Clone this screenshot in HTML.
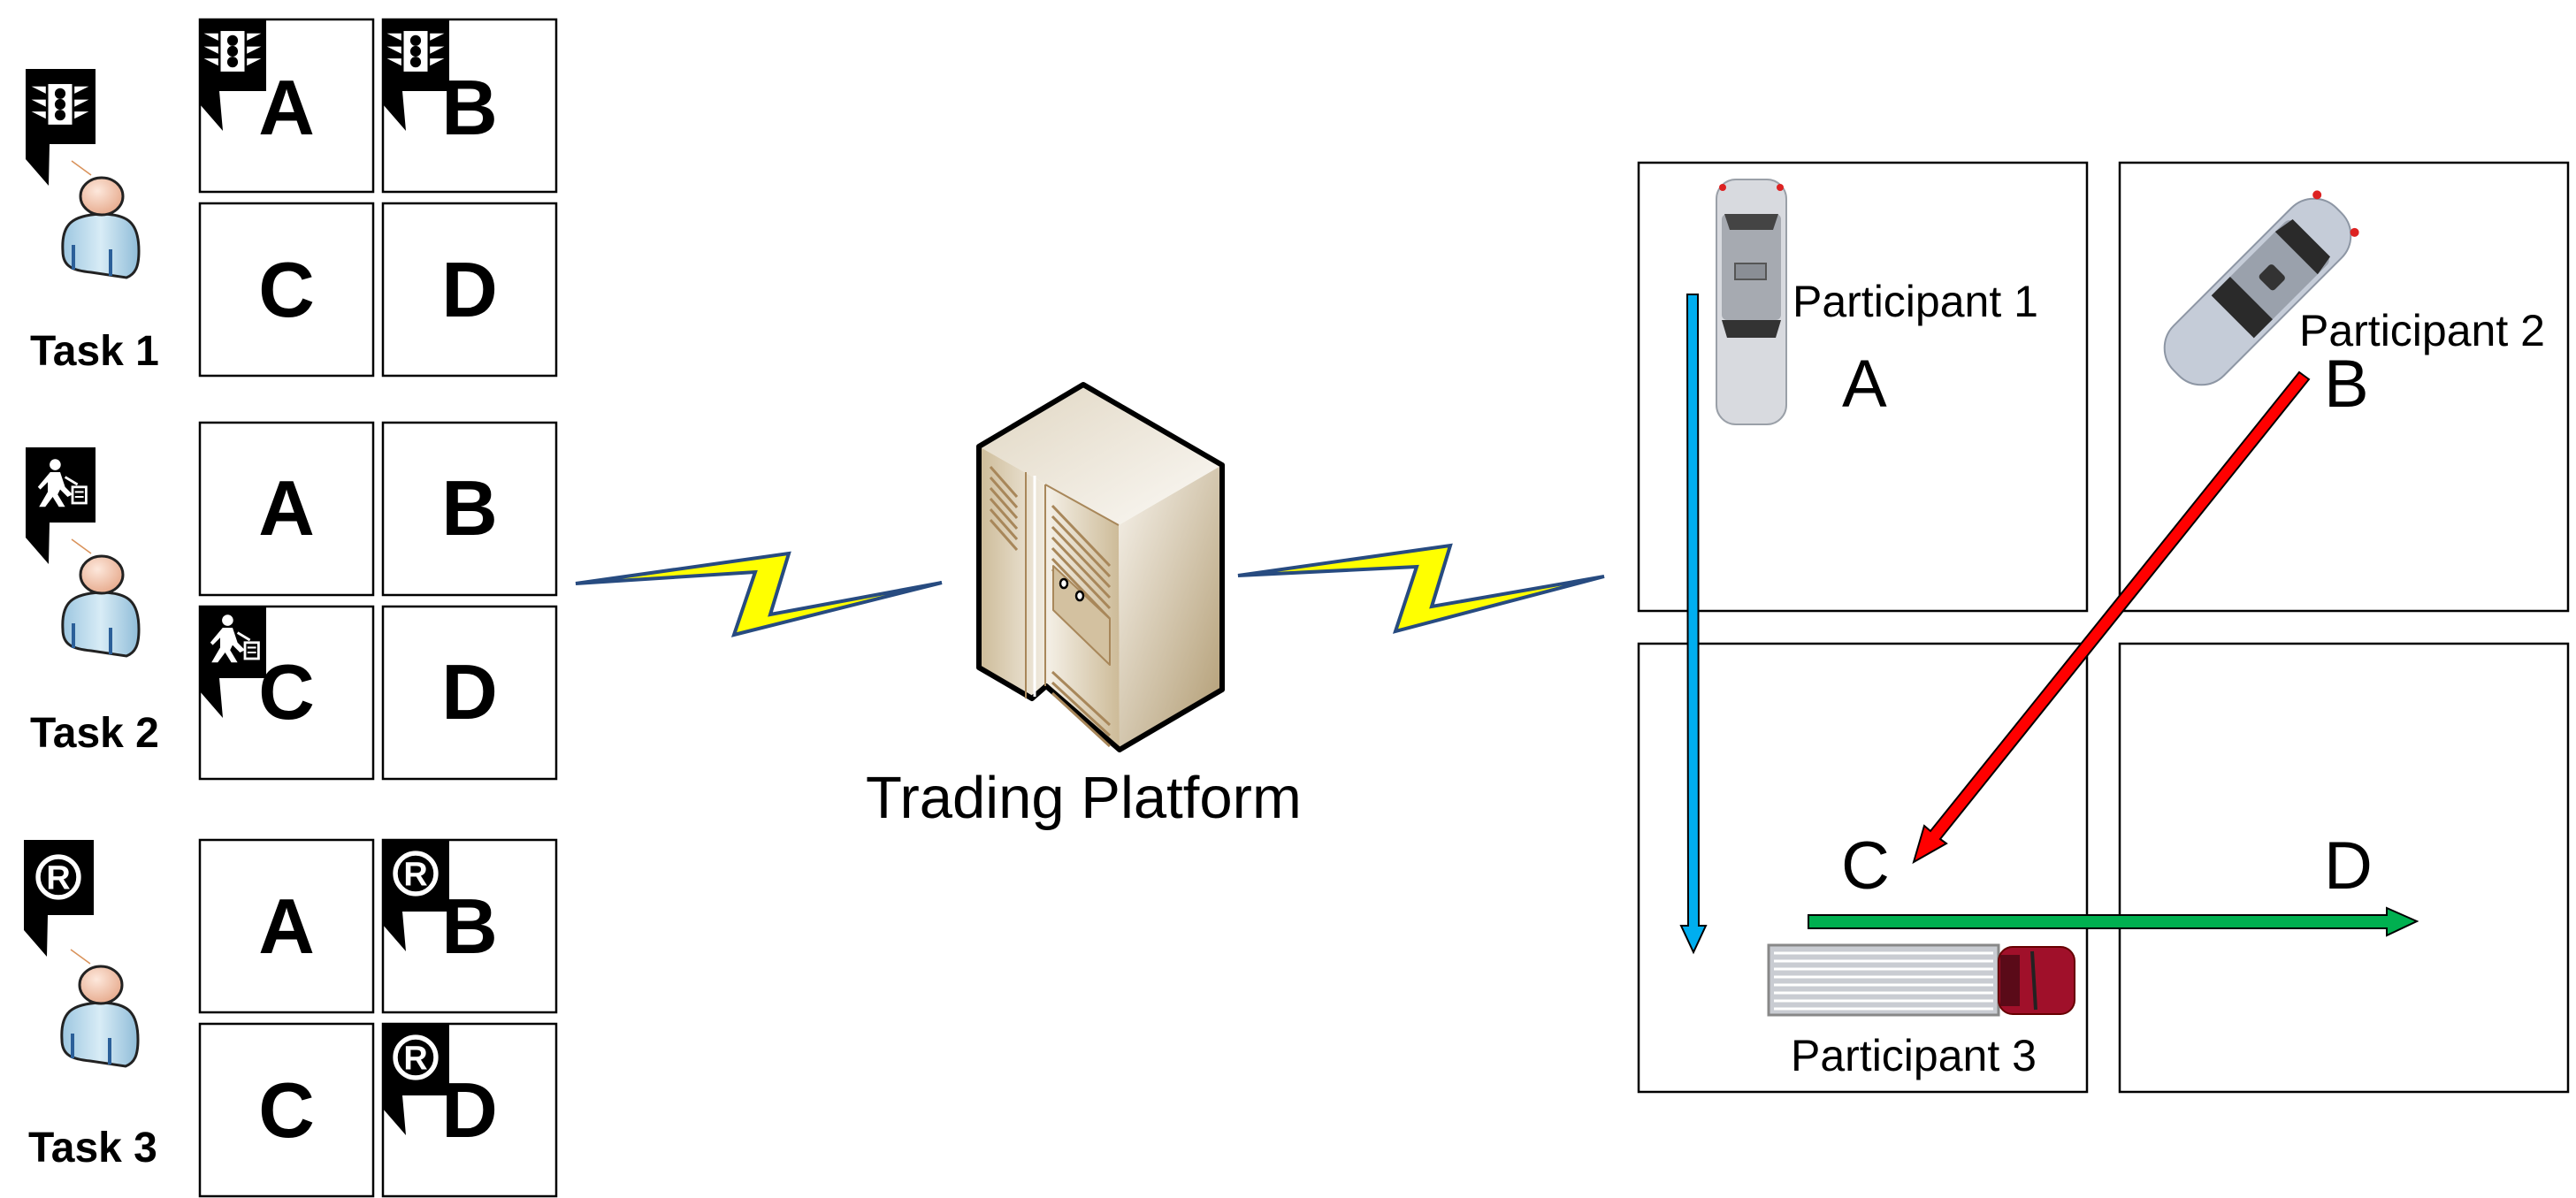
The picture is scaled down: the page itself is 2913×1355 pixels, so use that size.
<!DOCTYPE html>
<html><head><meta charset="utf-8"><style>
html,body{margin:0;padding:0;background:#fff;}
svg{display:block;}
text{font-family:"Liberation Sans",Arial,sans-serif;}
</style></head><body>
<svg width="2913" height="1355" viewBox="0 0 2913 1355" xmlns="http://www.w3.org/2000/svg">
<defs>
<linearGradient id="bodyg" x1="0" y1="0" x2="1" y2="0">
<stop offset="0" stop-color="#9cc6e0"/><stop offset="0.5" stop-color="#d8ecf6"/><stop offset="1" stop-color="#8fbcd8"/></linearGradient>
<radialGradient id="headg" cx="0.4" cy="0.35" r="0.7"><stop offset="0" stop-color="#fde8dc"/><stop offset="1" stop-color="#e6a88a"/></radialGradient>
<linearGradient id="srvL" x1="0" y1="0" x2="1" y2="0"><stop offset="0" stop-color="#cdbb98"/><stop offset="0.5" stop-color="#f3eee4"/><stop offset="1" stop-color="#cdbb98"/></linearGradient>
<linearGradient id="srvR" x1="0" y1="0" x2="1" y2="1"><stop offset="0" stop-color="#f7f3ec"/><stop offset="1" stop-color="#b09a70"/></linearGradient>
<linearGradient id="srvT" x1="0" y1="0" x2="1" y2="1"><stop offset="0" stop-color="#e0d6c2"/><stop offset="1" stop-color="#fbf9f5"/></linearGradient>

<g id="person">
<path d="M-42,62 C-44,30 -30,22 0,20 C32,20 44,30 44,62 C44,80 40,88 30,92 L-10,86 C-30,84 -42,80 -42,62 Z" fill="url(#bodyg)" stroke="#222" stroke-width="3"/>
<path d="M-30,55 v28 M12,60 v30" stroke="#2b5f99" stroke-width="4"/>
<ellipse cx="2" cy="0" rx="24" ry="21" fill="url(#headg)" stroke="#222" stroke-width="3"/>
<path d="M-32,-40 L-10,-24" stroke="#d9925a" stroke-width="1.5"/>
</g>

<g id="tl0">
<rect x="-10" y="-17" width="20" height="34" fill="#fff"/>
<circle cx="0" cy="-9" r="4.5" fill="#000"/><circle cx="0" cy="0" r="4.5" fill="#000"/><circle cx="0" cy="9" r="4.5" fill="#000"/>
<path d="M-12,-15 L-24,-15 L-12,-9Z M-12,-4 L-24,-4 L-12,2Z M-12,6 L-24,6 L-12,12Z M12,-15 L24,-15 L12,-9Z M12,-4 L24,-4 L12,2Z M12,6 L24,6 L12,12Z" fill="#fff"/>
</g>
<g id="tl"><use href="#tl0" transform="scale(1.35)"/></g>
<g id="ped0">
<circle cx="-4" cy="-16" r="4.5" fill="#fff"/>
<path d="M-8,-10 L0,-10 L4,2 L10,8 L6,10 L0,4 L-2,8 L4,18 L-1,18 L-6,10 L-12,18 L-17,18 L-10,6 L-10,-2 L-16,4 L-18,2 Z" fill="#fff"/>
<path d="M4,-6 L14,0" stroke="#fff" stroke-width="2"/>
<rect x="10" y="2" width="11" height="13" fill="none" stroke="#fff" stroke-width="2"/>
<path d="M12,6 h7 M12,10 h7" stroke="#fff" stroke-width="1.5"/>
</g>
<g id="ped"><use href="#ped0" transform="scale(1.4)"/></g>
<g id="reg0">
<circle cx="0" cy="0" r="17" fill="none" stroke="#fff" stroke-width="4"/>
<text x="0" y="10" font-size="28" font-weight="bold" text-anchor="middle" fill="#fff">R</text>
</g>
<g id="reg"><use href="#reg0" transform="scale(1.35)"/></g>
<g id="bubS"><path d="M0,0 H75 V81 H22 L26,126 L0,96 Z" fill="#000"/></g>
<g id="bubB"><path d="M0,0 H79 V85 H27 L26,132 L0,102 Z" fill="#000"/></g>
</defs>

<!-- left grids -->
<g fill="none" stroke="#000" stroke-width="2.5">
<rect x="226" y="22" width="196" height="195"/><rect x="433" y="22" width="196" height="195"/>
<rect x="226" y="230" width="196" height="195"/><rect x="433" y="230" width="196" height="195"/>
<rect x="226" y="478" width="196" height="195"/><rect x="433" y="478" width="196" height="195"/>
<rect x="226" y="686" width="196" height="195"/><rect x="433" y="686" width="196" height="195"/>
<rect x="226" y="950" width="196" height="195"/><rect x="433" y="950" width="196" height="195"/>
<rect x="226" y="1158" width="196" height="195"/><rect x="433" y="1158" width="196" height="195"/>
</g>

<use href="#bubS" x="226" y="22"/><use href="#tl" x="263" y="58"/>
<use href="#bubS" x="433" y="22"/><use href="#tl" x="470" y="58"/>
<use href="#bubS" x="226" y="686"/><use href="#ped" x="263" y="724"/>
<use href="#bubS" x="433" y="950"/><use href="#reg" x="470" y="988"/>
<use href="#bubS" x="433" y="1158"/><use href="#reg" x="470" y="1196"/>

<g font-size="88" font-weight="bold" text-anchor="middle" fill="#000">
<text x="324" y="152">A</text><text x="531" y="152">B</text>
<text x="324" y="358">C</text><text x="531" y="358">D</text>
<text x="324" y="605">A</text><text x="531" y="605">B</text>
<text x="324" y="813">C</text><text x="531" y="813">D</text>
<text x="324" y="1078">A</text><text x="531" y="1078">B</text>
<text x="324" y="1286">C</text><text x="531" y="1286">D</text>
</g>

<use href="#bubB" x="29" y="78"/><use href="#tl" x="68" y="118"/>
<use href="#person" x="113" y="222"/>
<use href="#bubB" x="29" y="506"/><use href="#ped" x="68" y="548"/>
<use href="#person" x="113" y="650"/>
<use href="#bubB" x="27" y="950"/><use href="#reg" x="66" y="992"/>
<use href="#person" x="112" y="1114"/>

<g font-size="48" font-weight="bold" fill="#000">
<text x="34" y="413">Task 1</text>
<text x="34" y="845">Task 2</text>
<text x="32" y="1314">Task 3</text>
</g>

<path d="M651,660 L892,626 L871,695 L1065,659 L830,718 L854,647 Z" fill="#ffff00" stroke="#274b80" stroke-width="4"/>
<path d="M1400,651 L1640,617 L1619,686 L1814,652 L1578,714 L1602,641 Z" fill="#ffff00" stroke="#274b80" stroke-width="4"/>

<!-- server -->
<g stroke-linejoin="round">
<path d="M1107,505 L1225,435 L1382,526 L1265,594 Z" fill="url(#srvT)"/>
<path d="M1265,594 L1382,526 L1382,780 L1266,848 Z" fill="url(#srvR)"/>
<path d="M1107,505 L1265,594 L1266,848 L1183,776 L1167,790 L1107,755 Z" fill="url(#srvL)"/>
<path d="M1107,505 L1225,435 L1382,526 L1382,780 L1266,848 L1183,776 L1167,790 L1107,755 Z" fill="none" stroke="#000" stroke-width="6"/>
<path d="M1160,534 L1160,790 M1182,548 L1182,776 M1182,548 L1265,594" stroke="#a8875a" stroke-width="2" fill="none"/>
<path d="M1170,538 L1170,788" stroke="#fff" stroke-width="3"/>
<g stroke="#a8875a" stroke-width="3">
<path d="M1120,528 L1150,562 M1120,540 L1150,574 M1120,552 L1150,586 M1120,564 L1150,598 M1120,576 L1150,610 M1120,588 L1150,622"/>
<path d="M1190,572 L1255,640 M1190,584 L1255,652 M1190,596 L1255,664 M1190,608 L1255,676 M1190,620 L1255,688 M1190,632 L1255,700 M1190,644 L1255,712"/>
<path d="M1190,760 L1255,820 M1190,772 L1255,832 M1190,784 L1255,844"/>
</g>
<path d="M1191,640 L1191,690 L1255,752 L1255,700 Z" fill="#d3c1a0" stroke="#a8875a" stroke-width="2"/>
<ellipse cx="1203" cy="660" rx="4" ry="5" fill="#fff" stroke="#000" stroke-width="2.5"/>
<ellipse cx="1221" cy="674" rx="4" ry="5" fill="#fff" stroke="#000" stroke-width="2.5"/>
</g>
<text x="979" y="925" font-size="67">Trading Platform</text>

<!-- right grid -->
<g fill="none" stroke="#000" stroke-width="2.5">
<rect x="1853" y="184" width="507" height="507"/><rect x="2397" y="184" width="507" height="507"/>
<rect x="1853" y="728" width="507" height="507"/><rect x="2397" y="728" width="507" height="507"/>
</g>

<!-- car 1 -->
<g>
<rect x="1941" y="203" width="79" height="277" rx="22" fill="#d8dadf" stroke="#9aa0a8" stroke-width="2"/>
<rect x="1947" y="242" width="67" height="120" rx="6" fill="#a6aab1"/>
<path d="M1950,242 L2011,242 L2005,260 L1956,260Z" fill="#444"/>
<path d="M1947,362 L2014,362 L2008,382 L1953,382Z" fill="#333"/>
<rect x="1962" y="298" width="35" height="18" fill="#8a8e95" stroke="#555" stroke-width="2"/>
<circle cx="1948" cy="212" r="4" fill="#d22"/><circle cx="2013" cy="212" r="4" fill="#d22"/>
</g>

<!-- car 2 -->
<g transform="translate(2553,330) rotate(-45)">
<rect x="-130" y="-40" width="260" height="80" rx="36" fill="#c5ccd8" stroke="#8d96a4" stroke-width="2"/>
<rect x="-40" y="-34" width="125" height="68" rx="8" fill="#9aa1ac"/>
<path d="M-40,-34 L-10,-34 L-10,34 L-40,34 Z" fill="#2a2a2a"/>
<path d="M62,-34 L86,-30 L86,30 L62,34 Z" fill="#2a2a2a"/>
<rect x="12" y="-12" width="22" height="24" rx="4" fill="#333"/>
<circle cx="125" cy="-30" r="5" fill="#d22"/><circle cx="125" cy="30" r="5" fill="#d22"/>
</g>

<!-- truck -->
<g>
<rect x="2000" y="1069" width="260" height="79" fill="#c9ccd2" stroke="#888" stroke-width="3"/>
<g stroke="#fff" stroke-width="3">
<path d="M2006,1078 h248 M2006,1087 h248 M2006,1096 h248 M2006,1105 h248 M2006,1114 h248 M2006,1123 h248 M2006,1132 h248 M2006,1141 h248"/>
</g>
<rect x="2260" y="1071" width="86" height="76" rx="16" fill="#a0102a" stroke="#600" stroke-width="2"/>
<rect x="2262" y="1080" width="22" height="58" fill="#5a0a18"/>
<path d="M2298,1076 L2302,1142" stroke="#222" stroke-width="4"/>
</g>

<!-- arrows -->
<path d="M1908,333 L1920,333 L1921,1047 L1929,1047 L1915,1077 L1901,1047 L1909,1047 Z" fill="#00aeef" stroke="#000" stroke-width="2"/>
<path d="M2611,429 L2600,421 L2183,940 L2176,934 L2164,975 L2201,954 L2194,949 Z" fill="#ff0000" stroke="#000" stroke-width="2"/>
<path d="M2045,1035 L2699,1035 L2699,1027 L2733,1042 L2699,1058 L2699,1050 L2045,1050 Z" fill="#00b050" stroke="#000" stroke-width="2"/>

<g fill="#000">
<text x="2027" y="358" font-size="50">Participant 1</text>
<text x="2600" y="391" font-size="50">Participant 2</text>
<text x="2025" y="1211" font-size="50">Participant 3</text>
<text x="2083" y="460" font-size="76">A</text>
<text x="2628" y="460" font-size="76">B</text>
<text x="2082" y="1005" font-size="76">C</text>
<text x="2628" y="1005" font-size="76">D</text>
</g>
</svg>
</body></html>
